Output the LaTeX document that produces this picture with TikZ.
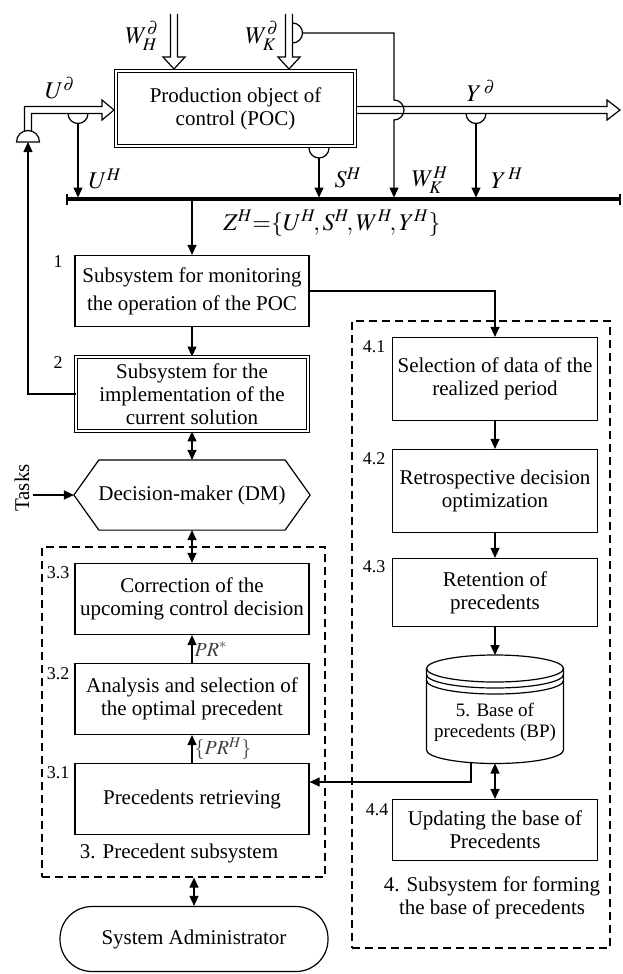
\documentclass[tikz,border=0pt]{standalone}
\usepackage{mathptmx}
\usepackage[no-math]{fontspec}
\setmainfont{Liberation Serif}
\usepackage{tikz}
\usetikzlibrary{positioning}
\usetikzlibrary{arrows.meta}

\begin{document}
\begin{tikzpicture}[x=1pt, y=-1pt, line width=1.2pt,
  font=\fontsize{21}{23}\selectfont,
  box/.style={draw, minimum width=234pt, align=center, inner sep=1pt},
  rbox/.style={draw, minimum width=205pt, align=center, inner sep=1pt},
  dbox/.style={draw, double, double distance=2pt, line width=0.9pt, align=center, inner sep=1pt},
  frame/.style={draw, dash pattern=on 8pt off 5pt},
  arr/.style={-{Triangle[length=10pt,width=9pt]}},
  both/.style={{Triangle[length=10pt,width=9pt]}-{Triangle[length=10pt,width=9pt]}},
  num/.style={font=\fontsize{18}{20}\selectfont, inner sep=0pt},
  lab/.style={font=\fontsize{24}{28}\selectfont, inner sep=0pt},
  prlab/.style={font=\fontsize{20}{22}\selectfont, text=black!75, inner sep=2pt}]

\useasboundingbox (0,0) rectangle (623,974);

% dashed frames
\node[frame, minimum width=283pt, minimum height=330pt] (f3) at (183.5,712) {};
\node[frame, minimum width=258pt, minimum height=627pt] (f4) at (481,634.5) {};

% object of control
\node[dbox, minimum width=239pt, minimum height=75pt] (poc) at (235.5,108.5) {Production object of\\control (POC)};

% hollow arrows
\draw[line join=miter] (170.5,14)--(170.5,57)--(163,57)--(174,69)--(185,57)--(177.5,57)--(177.5,14);
\draw[line join=miter] (285.5,14)--(285.5,57)--(278,57)--(289,69)--(300,57)--(292.5,57)--(292.5,14);
\draw[line join=miter] (24.5,131)--(24.5,106.5)--(102,106.5)--(102,100)--(114,110)--(102,120)--(102,113.5)--(31.5,113.5)--(31.5,131);
\draw[line join=miter] (357,106.5)--(607,106.5)--(607,100)--(620,110)--(607,120)--(607,113.5)--(357,113.5);

% dome on the input
\coordinate (dome) at (28,142);
\draw (16.5,142) arc[start angle=180, end angle=360, radius=11.5] -- cycle;

% bus
\coordinate (busl) at (66,199);
\coordinate (busr) at (621,199);
\draw[line width=3.5pt, {Bar[width=11pt,line width=2pt]}-{Bar[width=11pt,line width=2pt]}] (busl) -- (busr);

% taps
\coordinate (utap) at (78,123.5);
\coordinate (stap) at (319,158);
\coordinate (ytap) at (476,123.5);
\coordinate (wtap) at (394,33);
\draw (68,113.5) arc[start angle=180, end angle=0, radius=10];
\draw (309,148) arc[start angle=180, end angle=0, radius=10];
\draw (466,113.5) arc[start angle=180, end angle=0, radius=10];
\draw (292.5,23) arc[start angle=-90, end angle=90, radius=10];
\draw[arr, shorten >=1.5pt] (utap) -- (utap |- busl);
\draw[arr, shorten >=1.5pt] (stap) -- (stap |- busl);
\draw[arr, shorten >=1.5pt] (ytap) -- (ytap |- busl);
\draw[arr, shorten >=1.5pt] (302.5,33) -- (wtap) -- (394,100)
  arc[start angle=-90, end angle=90, radius=10] -- (wtap |- busl);

\node[lab] (whd) at (142,36) {$W^{\partial}_{H}$};
\node[lab] (wkd) at (262,36) {$W^{\partial}_{K}$};
\node[lab] (ud) at (60,88) {$U^{\partial}$};
\node[lab] (yd) at (481,91) {$Y^{\,\partial}$};
\node[lab] (uh) at (105,179) {$U^{H}$};
\node[lab] (sh) at (348,178) {$S^{H}$};
\node[lab] (wkh) at (430,180) {$W^{H}_{K}$};
\node[lab] (yh) at (507,178) {$Y^{\,H}$};
\node[lab] (zh) at (332,223) {$Z^{H}{=}\{U^{H}\!,S^{H}\!,W^{H}\!,Y^{H}\}$};

% left column
\node[box, minimum height=71pt] (s1) at (192,291) {Subsystem for monitoring\\[5pt]the operation of the POC};
\node[dbox, minimum width=232pt, minimum height=74pt] (s2) at (192,394) {Subsystem for the\\implementation of the\\current solution};
\node[minimum width=235pt, minimum height=69pt, inner sep=0pt] (dm) at (192,495) {Decision-maker (DM)};
\draw (dm.west) -- ([xshift=25pt]dm.north west) -- ([xshift=-25pt]dm.north east) -- (dm.east)
  -- ([xshift=-25pt]dm.south east) -- ([xshift=25pt]dm.south west) -- cycle;
\node[box, minimum height=71pt] (s33) at (192,599) {Correction of the\\upcoming control decision};
\node[box, minimum height=71pt] (s32) at (192,699) {Analysis and selection of\\the optimal precedent};
\node[box, minimum height=71pt] (s31) at (192,799) {Precedents retrieving};
\node (f3lab) at (179,853) {3. Precedent subsystem};
\node[draw, rounded corners=32pt, minimum width=268pt, minimum height=65pt] (admin) at (194,939) {System Administrator};

\node[num] (n1) at (58,262) {1};
\node[num] (n2) at (58,363) {2};
\node[num] (n33) at (58,573) {3.3};
\node[num] (n32) at (58,674) {3.2};
\node[num] (n31) at (58,773) {3.1};

\node[rotate=90, inner sep=3pt] (tasks) at (22,488) {Tasks};

% right column
\node[rbox, minimum height=83pt] (s41) at (495,379) {Selection of data of the\\realized period};
\node[rbox, minimum height=83pt] (s42) at (495,491) {Retrospective decision\\optimization};
\node[rbox, minimum height=68pt] (s43) at (495,592.5) {Retention of\\precedents};
\node[rbox, minimum height=61pt] (s44) at (495,830) {Updating the base of\\Precedents};
\node[align=center] (f4lab) at (492,897.5) {4. Subsystem for forming\\the base of precedents};

\node[num] (n41) at (374,347) {4.1};
\node[num] (n42) at (374,459) {4.2};
\node[num] (n43) at (374,567) {4.3};
\node[num] (n44) at (377,810) {4.4};

% base of precedents
\draw (495,668.5) ellipse[x radius=68.5, y radius=13.5];
\draw (426.5,674.5) arc[start angle=180, end angle=0, x radius=68.5, y radius=13.5];
\draw (426.5,680.5) arc[start angle=180, end angle=0, x radius=68.5, y radius=13.5];
\draw (426.5,668.5) -- (426.5,750) arc[start angle=180, end angle=0, x radius=68.5, y radius=13.5] -- (563.5,668.5);
\node[align=center, font=\fontsize{19}{21}\selectfont] (bp) at (495,722.5) {5. Base of\\precedents (BP)};
\coordinate (bptop) at (495,655);
\coordinate (bpbot) at (495,763.5);
\coordinate (bpout) at (471,762.6);

% connectors
\draw[arr] (s1.north |- busl) -- (s1);
\draw[arr] (s1) -- (s2);
\draw[both] (s2) -- (dm);
\draw[both] (dm) -- (s33);
\draw[arr] (s32) -- node[right, prlab] {$PR^{*}$} (s33);
\draw[arr] (s31) -- node[right, prlab] {$\{PR^{H}\}$} (s32);
\draw[both] (f3.south -| admin.north) -- (admin);
\draw[arr] (s2.west) -| (dome);
\draw[arr] (tasks.south |- dm.west) -- (dm.west);
\draw[arr] (s1.east) -| (s41.north);
\draw[arr] (s41) -- (s42);
\draw[arr] (s42) -- (s43);
\draw[arr] (s43) -- (bptop);
\draw[both] (bpbot) -- (s44);
\draw[arr] (bpout) |- ([yshift=17pt]s31.east);

\end{tikzpicture}
\end{document}
